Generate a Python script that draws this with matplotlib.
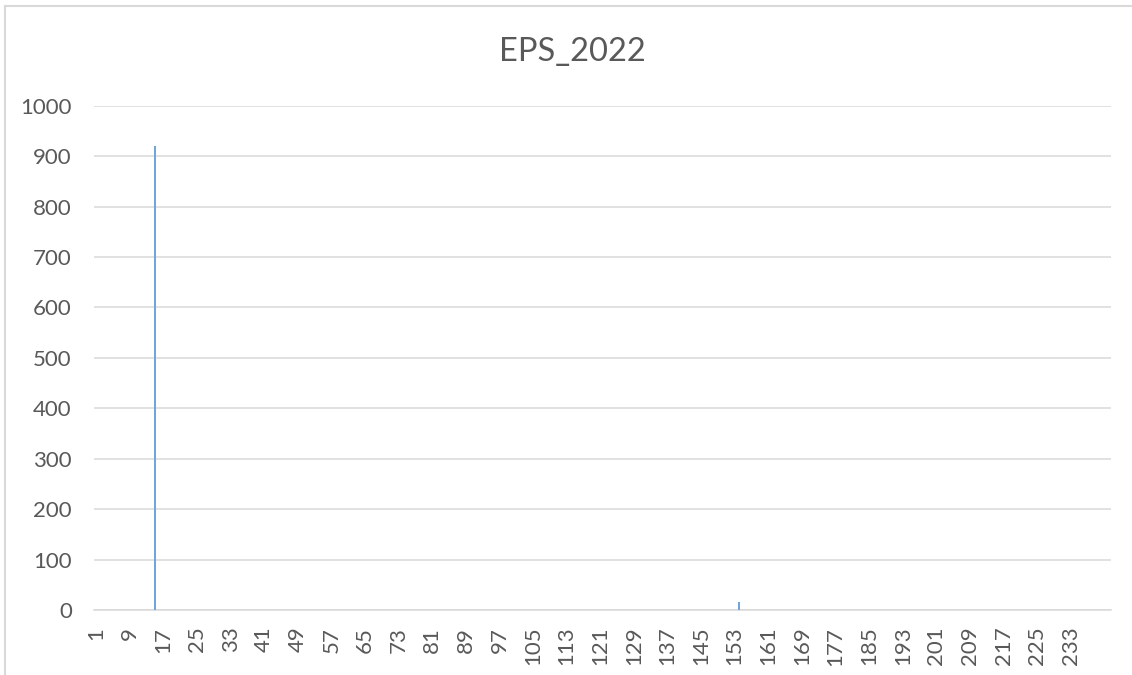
import numpy as np
import matplotlib
matplotlib.use("Agg")
import matplotlib.pyplot as plt
from matplotlib.lines import Line2D

# EPS values per record; every record not listed below is zero
n_records = 242
nonzero_records = [15, 154]
nonzero_eps = [920, 15]

y_ticks = [0, 100, 200, 300, 400, 500, 600, 700, 800, 900, 1000]
x_tick_labels = [str(v) for v in range(1, 234, 8)]

categories = np.arange(1, n_records + 1)
eps = np.zeros(n_records)
for rec, val in zip(nonzero_records, nonzero_eps):
    eps[rec - 1] = val

W, H, DPI = 1132, 675, 100
text_color = "#595959"
grid_color = "#D9D9D9"
plt.rcParams["font.family"] = ["Lato", "DejaVu Sans"]

fig = plt.figure(figsize=(W / DPI, H / DPI), dpi=DPI)
left, right = 94 / W, 1110.7 / W
bottom, top = 1 - 610 / H, 1 - 105.7 / H
ax = fig.add_axes([left, bottom, right - left, top - bottom])

x = np.arange(n_records)
ax.bar(x, eps, width=0.42, color="#6FA5DA", zorder=3)

ax.set_xlim(-0.5, n_records - 0.5)
ax.set_ylim(0, 1000)
ax.set_yticks(y_ticks)
ax.set_yticklabels([str(v) for v in y_ticks])
ax.set_xticks(np.arange(0, 233, 8))
ax.set_xticklabels(x_tick_labels, rotation=90)

ax.grid(axis="y", color=grid_color, linewidth=1.1, zorder=0)
ax.set_axisbelow(True)
for side in ["top", "left", "right"]:
    ax.spines[side].set_visible(False)
ax.spines["bottom"].set_color(grid_color)
ax.spines["bottom"].set_linewidth(1.1)
ax.tick_params(axis="both", length=0, labelsize=16, colors=text_color)
ax.tick_params(axis="y", pad=16)
ax.tick_params(axis="x", pad=12)

fig.text(572 / W, 1 - 52 / H, "EPS_2022", ha="center", va="center",
         fontsize=23.5, color=text_color)

# chart frame (left and top edges)
fig.add_artist(Line2D([5 / W, 5 / W], [0, 1 - 6 / H], transform=fig.transFigure,
                      color=grid_color, linewidth=1.5))
fig.add_artist(Line2D([5 / W, 1], [1 - 6 / H, 1 - 6 / H], transform=fig.transFigure,
                      color=grid_color, linewidth=1.5))

fig.savefig("out.png", dpi=DPI, facecolor="white")
